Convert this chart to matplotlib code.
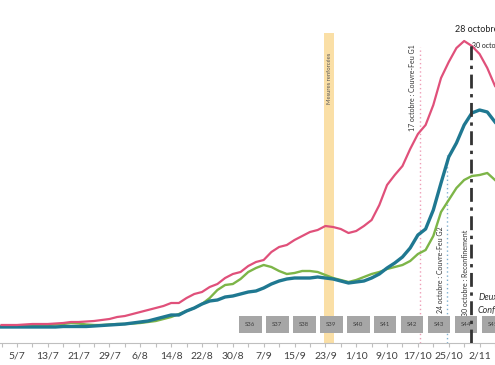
import matplotlib
matplotlib.use("Agg")
import matplotlib.pyplot as plt
import matplotlib.dates as mdates
from matplotlib.patches import Rectangle
import pandas as pd

plt.rcParams["font.family"] = ["Lato", "DejaVu Sans"]

# ==========================
# Données
# ==========================

dates = pd.date_range("2020-07-01", "2020-11-06", freq="2D")

pink = [18, 18, 18, 18.5, 19, 19, 19, 19.5, 20, 21, 21, 21.5, 22, 23, 24, 26, 27,
        29, 31, 33, 35, 37, 40, 40, 45, 49, 51, 56, 59, 65, 69, 71, 77, 81, 83,
        91, 96, 98, 103, 107, 111, 113, 117, 116, 114, 110, 112, 117, 123, 138,
        158, 168, 177, 194, 209, 218, 238, 265, 281, 295, 302, 297, 289, 275, 257]

teal = [16, 16, 16, 16, 16, 16, 16, 16, 16.5, 16.5, 16.5, 16.5, 17, 17.5, 18,
        18.5, 19, 20, 21, 22, 24, 26, 28, 28, 32, 35, 39, 42, 43, 46, 47, 49, 51,
        52, 55, 59, 62, 64, 65, 65, 65, 66, 65, 64, 62, 60, 61, 62, 65, 69, 75,
        80, 86, 95, 108, 114, 133, 160, 186, 200, 218, 230, 233, 231, 221]

green = [17, 17, 17, 17.5, 17.5, 18, 18, 18.5, 19, 20, 19.5, 18.5, 18, 18, 18.5,
         19, 19, 19.5, 20, 21, 22, 24, 26, 29, 32, 35, 39, 45, 53, 58, 59, 64, 71,
         75, 78, 76, 72, 69, 70, 72, 72, 71, 68, 65, 63, 61, 63, 66, 69, 71, 74,
         76, 78, 82, 89, 93, 107, 131, 143, 155, 163, 167, 168, 170, 163]

tick_dates = pd.date_range("2020-07-05", periods=16, freq="8D")
tick_labels = ["5/7", "13/7", "21/7", "29/7", "6/8", "14/8", "22/8", "30/8",
               "7/9", "15/9", "23/9", "1/10", "9/10", "17/10", "25/10", "2/11"]

week_labels = ["S36", "S37", "S38", "S39", "S40", "S41", "S42", "S43", "S44", "S45"]
week_thursdays = pd.date_range("2020-09-03", periods=10, freq="7D")

event_dates = {
    "mesures": pd.Timestamp("2020-09-24"),
    "g1": pd.Timestamp("2020-10-17 12:00"),
    "g2": pd.Timestamp("2020-10-24 12:00"),
    "reconf": pd.Timestamp("2020-10-30 16:00"),
}

# ==========================
# Figure
# ==========================

fig = plt.figure(figsize=(4.95, 3.65), dpi=100)
ax = fig.add_axes([0, 22 / 365, 1, 343 / 365])

x0 = mdates.date2num(pd.Timestamp("2020-07-05"))
ax.set_xlim(x0 - 4.39, x0 + 123.5)
ax.set_ylim(0, 343)

def xn(t, off=0.0):
    return mdates.date2num(t) + off

# bande "Mesures renforcées"
m = xn(event_dates["mesures"])
ax.axvspan(m - 1.3, m + 1.3, ymin=0, ymax=310 / 343, color="#FADFA6", lw=0, zorder=1)
ax.text(m, 265, "Mesures renforcées", rotation=90, ha="center", va="center",
        fontsize=4.2, color="#555555", zorder=2)

# lignes d'événements
g1 = xn(event_dates["g1"])
ax.plot([g1, g1], [0, 296], color="#EE9DB6", lw=1, ls=(0, (1, 2)), zorder=2)
ax.text(g1 - 2.0, 255, "17 octobre : Couvre-Feu G1", rotation=90, ha="center",
        va="center", fontsize=5, color="#333333", zorder=2)

g2 = xn(event_dates["g2"])
ax.plot([g2, g2], [0, 188], color="#7FB0D0", lw=1, ls=(0, (1, 2)), zorder=2)
ax.text(g2 - 1.6, 73, "24 octobre : Couvre-Feu G2", rotation=90, ha="center",
        va="center", fontsize=5, color="#333333", zorder=2)

rc = xn(event_dates["reconf"])
ax.plot([rc, rc], [0, 301], color="#333333", lw=2, ls=(0, (5, 2, 1.2, 2)), zorder=4)
ax.text(rc - 1.3, 70, "30 octobre : Reconfinement", rotation=90, ha="center",
        va="center", fontsize=5, color="#333333", zorder=2)

ax.text(xn(pd.Timestamp("2020-10-26 12:00")), 313, "28 octobre", fontsize=6.5,
        color="#222222", ha="left", va="center")
ax.text(rc + 0.4, 298, "30 octobre", fontsize=5, color="#222222", ha="left", va="center")
ax.text(xn(pd.Timestamp("2020-11-01 20:00")), 46, "Deuxième", fontsize=6.5,
        style="italic", color="#333333", ha="left", va="center")
ax.text(xn(pd.Timestamp("2020-11-01 12:00")), 33, "Confinement", fontsize=6.5,
        style="italic", color="#333333", ha="left", va="center")

# semaines
for lab, th in zip(week_labels, week_thursdays):
    c = xn(th, 0.5)
    ax.add_patch(Rectangle((c - 2.95, 10), 5.9, 17, facecolor="#A6A6A6",
                           edgecolor="none", zorder=3))
    ax.text(c, 18.5, lab, ha="center", va="center", fontsize=4.3,
            color="#3F3F3F", zorder=3)

# courbes
ax.plot(dates, green, color="#7DB548", lw=1.7, zorder=3)
ax.plot(dates, teal, color="#1F7891", lw=2.4, zorder=3)
ax.plot(dates, pink, color="#E0507A", lw=1.6, zorder=3)

# axes
for s in ["top", "left", "right"]:
    ax.spines[s].set_visible(False)
ax.spines["bottom"].set_color("#BFBFBF")
ax.spines["bottom"].set_linewidth(0.8)
ax.set_yticks([])
ax.set_xticks(tick_dates)
ax.set_xticklabels(tick_labels)
ax.set_xticks(pd.date_range("2020-07-01", periods=33, freq="4D"), minor=True)
ax.tick_params(axis="x", which="both", length=3, color="#BFBFBF", width=0.8,
               labelsize=7.5, labelcolor="#404040", pad=3)

fig.savefig("out.png", dpi=100)
